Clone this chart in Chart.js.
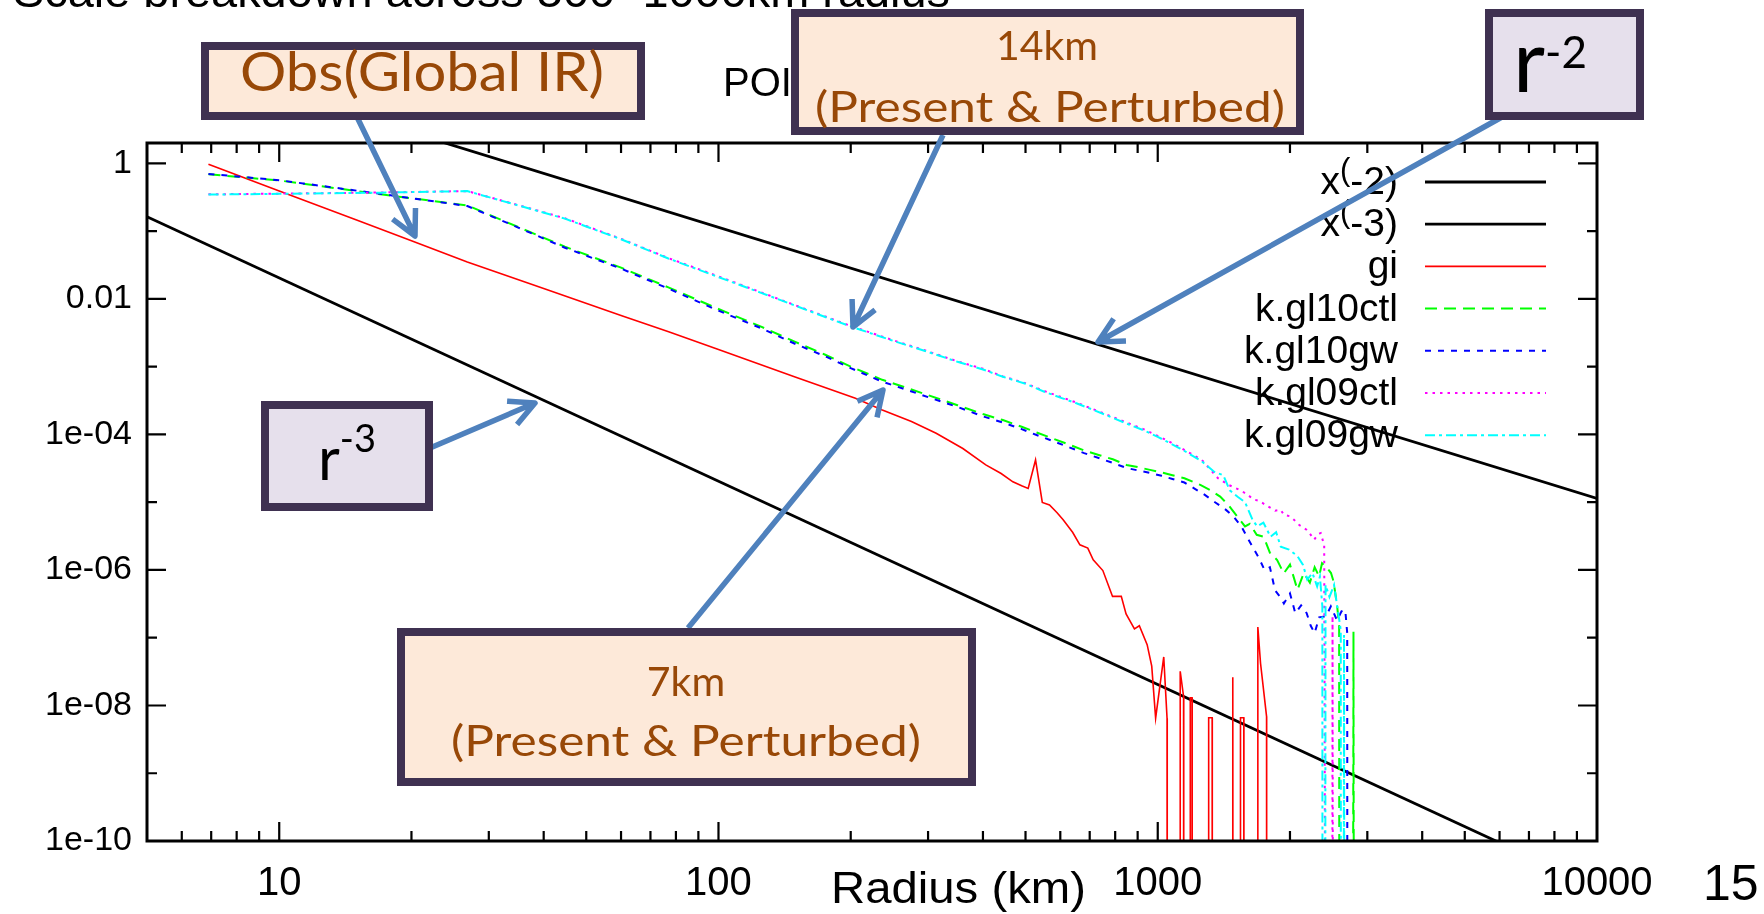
<!DOCTYPE html>
<html><head><meta charset="utf-8">
<script src="https://cdn.jsdelivr.net/npm/chart.js@4.4.1/dist/chart.umd.min.js"></script>
<style>
html,body{margin:0;padding:0;background:#fff;}
#wrap{position:relative;width:1764px;height:914px;overflow:hidden;background:#fff;}
#c{position:absolute;left:0;top:0;}
#ov{position:absolute;left:0;top:0;}
</style></head><body>
<div id="wrap">
<canvas id="c" width="1764" height="914"></canvas>
<svg id="ov" width="1764" height="914" xmlns="http://www.w3.org/2000/svg">
  <g id="arrows"></g>
  <g id="boxes" stroke="#3f3151" stroke-width="8">
    <rect x="205" y="46" width="436" height="70" fill="#fde9d9"/>
    <rect x="795" y="13" width="505" height="118" fill="#fde9d9"/>
    <rect x="1489" y="13" width="151" height="103" fill="#e6e0ec"/>
    <rect x="265" y="405" width="164" height="102" fill="#e6e0ec"/>
    <rect x="401" y="632" width="571" height="150" fill="#fde9d9"/>
  </g>
  <g font-family="Liberation Sans, Arial, sans-serif" fill="#000">
    <text x="13" y="7" font-size="46" textLength="937" lengthAdjust="spacingAndGlyphs">Scale breakdown across 500~1000km radius</text>
    <text x="831" y="903" font-size="44" textLength="255" lengthAdjust="spacingAndGlyphs">Radius (km)</text>
    <text x="1703" y="900" font-size="50">15</text>
    <text x="723" y="96" font-size="40" id="poi"></text>
  </g>
  <g font-family="Lato, 'Open Sans', sans-serif" fill="#984807">
    <text x="240" y="91" font-size="55" textLength="364" lengthAdjust="spacingAndGlyphs">Obs(Global IR)</text>
    <text x="1047" y="60" font-size="41" text-anchor="middle">14km</text>
    <text x="1050" y="122" font-size="43" text-anchor="middle" textLength="470" lengthAdjust="spacingAndGlyphs">(Present &amp; Perturbed)</text>
    <text x="686" y="696" font-size="41" text-anchor="middle">7km</text>
    <text x="686" y="756" font-size="43" text-anchor="middle" textLength="470" lengthAdjust="spacingAndGlyphs">(Present &amp; Perturbed)</text>
  </g>
  <g font-family="Lato, 'Open Sans', sans-serif" fill="#000">
    <text x="1550" y="92" text-anchor="middle"><tspan font-size="88">r</tspan><tspan font-size="44" dy="-24">-2</tspan></text>
    <text x="347" y="480" text-anchor="middle"><tspan font-size="60">r</tspan><tspan font-size="38" dy="-28">-3</tspan></text>
  </g>
</svg>
</div>
<script>
// ---------------- data ----------------
const pow2X = [5, 10000];
const pow2Y = [45.6, 1.14e-5];
const pow3X = [5, 10000];
const pow3Y = [0.163, 2.04e-11];

const giX = [6.9, 10, 15, 20, 26.8, 40, 60, 77, 100, 150, 205, 236, 275, 313, 360, 406, 440, 468, 490, 507, 527, 546, 567, 590, 609, 640, 665, 693, 713, 750, 789, 826, 847, 885, 908, 946, 969, 989, 1032, 1050, 1051, 1124, 1125, 1145, 1146, 1185, 1186, 1197, 1198, 1305, 1306, 1330, 1331, 1481, 1482, 1484, 1542, 1543, 1570, 1571, 1689, 1690, 1714, 1769, 1770];
const giY = [0.97, 0.39, 0.146, 0.072, 0.035, 0.0143, 5.7e-3, 3.27e-3, 1.79e-3, 7.0e-4, 3.41e-4, 2.29e-4, 1.55e-4, 1.04e-4, 6.2e-5, 3.55e-5, 2.65e-5, 2.0e-5, 1.75e-5, 1.6e-5, 4.2e-5, 9.9e-6, 9.1e-6, 7.0e-6, 5.5e-6, 3.6e-6, 2.35e-6, 2.1e-6, 1.41e-6, 9.8e-7, 4.07e-7, 4.07e-7, 2.24e-7, 1.35e-7, 1.5e-7, 7.9e-8, 3.8e-8, 6.5e-9, 5.2e-8, 6.5e-9, 1e-14, 1e-14, 3.2e-8, 1.36e-8, 1e-14, 1e-14, 1.3e-8, 1.3e-8, 1e-14, 1e-14, 6.6e-9, 6.6e-9, 1e-14, 1e-14, 2.6e-8, 1e-14, 1e-14, 6.6e-9, 6.6e-9, 1e-14, 1e-14, 1.44e-7, 4.2e-8, 6.9e-9, 1e-14];

const gl10ctlX = [6.9, 10, 17, 26.8, 35, 44.7, 60, 76.9, 100, 125, 150, 175, 200, 236, 270, 300, 350, 400, 444, 490, 530, 580, 631, 680, 740, 790, 849, 900, 960, 1020, 1080, 1150, 1250, 1320, 1387, 1450, 1518, 1580, 1620, 1680, 1742, 1800, 1870, 1936, 2000, 2080, 2150, 2220, 2276, 2330, 2366, 2420, 2480, 2513, 2560, 2588, 2592, 2780, 2790, 2798];
const gl10ctlY = [0.69, 0.56, 0.35, 0.24, 0.115, 0.059, 0.029, 0.0148, 7.1e-3, 3.9e-3, 2.3e-3, 1.5e-3, 1.0e-3, 6.4e-4, 4.8e-4, 3.8e-4, 2.7e-4, 2.0e-4, 1.63e-4, 1.3e-4, 1.07e-4, 8.6e-5, 7.0e-5, 5.8e-5, 4.9e-5, 4.3e-5, 3.55e-5, 3.3e-5, 3.0e-5, 2.75e-5, 2.5e-5, 2.26e-5, 1.8e-5, 1.5e-5, 1.21e-5, 9.0e-6, 6.1e-6, 4.4e-6, 4.8e-6, 3.3e-6, 3.1e-6, 1.8e-6, 1.4e-6, 8.9e-7, 1.2e-6, 5.1e-7, 9.0e-7, 6.5e-7, 1.1e-6, 8.0e-7, 1.26e-6, 1.1e-6, 9.0e-7, 6.8e-7, 3.0e-7, 1.5e-7, 1e-14, 1e-14, 1.23e-7, 1e-14];

const gl10gwX = [6.9, 10, 17, 26.8, 35, 44.7, 60, 76.9, 100, 125, 150, 175, 200, 236, 270, 300, 350, 400, 444, 490, 530, 580, 631, 680, 740, 790, 849, 900, 960, 1020, 1080, 1150, 1220, 1280, 1350, 1430, 1489, 1550, 1600, 1644, 1700, 1750, 1800, 1850, 1900, 1937, 2000, 2057, 2120, 2183, 2230, 2276, 2330, 2415, 2478, 2560, 2620, 2672, 2700, 2702];
const gl10gwY = [0.70, 0.565, 0.355, 0.235, 0.113, 0.057, 0.028, 0.0142, 6.7e-3, 3.7e-3, 2.15e-3, 1.42e-3, 9.5e-4, 6.0e-4, 4.5e-4, 3.55e-4, 2.55e-4, 1.85e-4, 1.5e-4, 1.2e-4, 9.8e-5, 7.9e-5, 6.4e-5, 5.3e-5, 4.4e-5, 3.8e-5, 3.2e-5, 2.95e-5, 2.7e-5, 2.45e-5, 2.2e-5, 1.95e-5, 1.55e-5, 1.28e-5, 1.0e-5, 7.7e-6, 6.1e-6, 4.4e-6, 3.0e-6, 2.2e-6, 1.5e-6, 1.0e-6, 1.1e-6, 5.0e-7, 4.0e-7, 3.2e-7, 4.5e-7, 2.3e-7, 3.0e-7, 2.3e-7, 1.5e-7, 1.17e-7, 2.0e-7, 2.06e-7, 2.9e-7, 1.8e-7, 2.45e-7, 2.57e-7, 1.17e-7, 1e-14];

const gl09ctlX = [6.9, 10, 17, 26.8, 35, 44.7, 60, 76.9, 100, 125, 150, 175, 201, 250, 300, 350, 400, 444, 500, 550, 600, 653, 720, 800, 860, 927, 1000, 1060, 1125, 1190, 1260, 1320, 1371, 1450, 1542, 1600, 1650, 1700, 1786, 1850, 1906, 1937, 2000, 2043, 2100, 2185, 2230, 2270, 2320, 2350, 2393, 2410, 2495, 2500, 2508];
const gl09ctlY = [0.35, 0.358, 0.372, 0.39, 0.242, 0.155, 0.077, 0.040, 0.0215, 0.0125, 8.0e-3, 5.5e-3, 3.95e-3, 2.45e-3, 1.68e-3, 1.2e-3, 9.3e-4, 7.2e-4, 5.7e-4, 4.4e-4, 3.6e-4, 2.95e-4, 2.3e-4, 1.75e-4, 1.45e-4, 1.2e-4, 9.5e-5, 7.9e-5, 6.4e-5, 5.2e-5, 4.2e-5, 3.0e-5, 2.26e-5, 1.8e-5, 1.5e-5, 1.3e-5, 1.1e-5, 1.05e-5, 8.6e-6, 7.5e-6, 7.7e-6, 6.5e-6, 6.2e-6, 5.5e-6, 4.6e-6, 3.9e-6, 3.3e-6, 2.8e-6, 3.4e-6, 3.5e-6, 2.3e-6, 1e-14, 1e-14, 2.1e-7, 1e-14];

const gl09gwX = [6.9, 10, 17, 26.8, 35, 44.7, 60, 76.9, 100, 125, 150, 175, 201, 250, 300, 350, 400, 444, 500, 550, 600, 653, 720, 800, 860, 927, 1000, 1060, 1125, 1190, 1260, 1346, 1410, 1459, 1520, 1580, 1644, 1684, 1740, 1806, 1860, 1906, 1990, 2080, 2140, 2190, 2250, 2306, 2340, 2370, 2372, 2405, 2410, 2460, 2520, 2560, 2610, 2612, 2650, 2655, 2660];
const gl09gwY = [0.347, 0.355, 0.37, 0.39, 0.24, 0.153, 0.076, 0.0395, 0.021, 0.0123, 7.9e-3, 5.4e-3, 3.88e-3, 2.4e-3, 1.65e-3, 1.18e-3, 9.1e-4, 7.1e-4, 5.6e-4, 4.3e-4, 3.5e-4, 2.88e-4, 2.25e-4, 1.7e-4, 1.4e-4, 1.16e-4, 9.2e-5, 7.6e-5, 6.2e-5, 5.0e-5, 4.0e-5, 2.8e-5, 2.5e-5, 1.5e-5, 1.2e-5, 1.0e-5, 5.5e-6, 4.4e-6, 5.0e-6, 3.1e-6, 3.6e-6, 2.2e-6, 2.0e-6, 1.6e-6, 1.2e-6, 7.2e-7, 9.0e-7, 5.7e-7, 8.0e-7, 2.9e-7, 1e-14, 1e-14, 6.0e-7, 4.0e-7, 6.0e-7, 3.0e-7, 1.3e-7, 1e-14, 1e-14, 1.1e-7, 1e-14];

const seriesLabels = ['x^(-2)', 'x^(-3)', 'gi', 'k.gl10ctl', 'k.gl10gw', 'k.gl09ctl', 'k.gl09gw'];
const xTickValues = [10, 100, 1000, 10000];
const xTickLabels = ['10', '100', '1000', '10000'];
const yTickValues = [1, 1e-2, 1e-4, 1e-6, 1e-8, 1e-10];
const yTickLabels = ['1', '0.01', '1e-04', '1e-06', '1e-08', '1e-10'];
const chartTitle = 'POI';

// ---------------- chart ----------------
document.getElementById('poi').textContent = chartTitle;
const FONT = 'Liberation Sans, Arial, sans-serif';
Chart.defaults.font.family = FONT;
Chart.defaults.color = '#000';

function pts(xs, ys) { return xs.map((x, i) => ({ x: x, y: ys[i] })); }

const styles = [
  { color: '#000000', width: 2.8, dash: [] },
  { color: '#000000', width: 2.8, dash: [] },
  { color: '#ff0000', width: 1.6, dash: [] },
  { color: '#00ff00', width: 2, dash: [12, 7] },
  { color: '#0000ff', width: 2, dash: [6, 7] },
  { color: '#ff00ff', width: 2, dash: [2.5, 5] },
  { color: '#00ffff', width: 2, dash: [10, 4, 3, 4] }
];
const series = [[pow2X, pow2Y], [pow3X, pow3Y], [giX, giY], [gl10ctlX, gl10ctlY], [gl10gwX, gl10gwY], [gl09ctlX, gl09ctlY], [gl09gwX, gl09gwY]];

const datasets = series.map((s, i) => ({
  label: seriesLabels[i],
  data: pts(s[0], s[1]),
  borderColor: styles[i].color,
  backgroundColor: styles[i].color,
  borderWidth: styles[i].width,
  borderDash: styles[i].dash,
  borderCapStyle: 'butt',
  pointRadius: 0,
  tension: 0,
  fill: false,
  order: series.length - i
}));

const framePlugin = {
  id: 'frame',
  afterDatasetsDraw(chart) {
    const ctx = chart.ctx, a = chart.chartArea, xs = chart.scales.x, ys = chart.scales.y;
    ctx.save();
    ctx.strokeStyle = '#000';
    ctx.lineWidth = 2.2;
    ctx.setLineDash([]);
    ctx.beginPath();
    for (let e = 0; e <= 4; e++) {
      for (let m = 1; m < 10; m++) {
        const v = m * Math.pow(10, e);
        if (v <= 5 || v >= 10000) continue;
        const px = xs.getPixelForValue(v);
        const L = (m === 1) ? 19 : 10;
        ctx.moveTo(px, a.bottom); ctx.lineTo(px, a.bottom - L);
        ctx.moveTo(px, a.top); ctx.lineTo(px, a.top + L);
      }
    }
    for (let e = -9; e <= 0; e++) {
      const py = ys.getPixelForValue(Math.pow(10, e));
      const L = (e % 2 === 0) ? 19 : 10;
      ctx.moveTo(a.left, py); ctx.lineTo(a.left + L, py);
      ctx.moveTo(a.right, py); ctx.lineTo(a.right - L, py);
    }
    ctx.stroke();
    ctx.lineWidth = 3;
    ctx.strokeRect(a.left, a.top, a.right - a.left, a.bottom - a.top);
    ctx.restore();
  }
};

const legendPlugin = {
  id: 'gpLegend',
  afterDatasetsDraw(chart) {
    const ctx = chart.ctx;
    const textRight = 1398, lineX0 = 1425, lineX1 = 1546, row0 = 182, rowStep = 42.2;
    const fs = 39, sfs = 31;
    ctx.save();
    chart.data.datasets.forEach((ds, i) => {
      const yRow = row0 + i * rowStep;
      const base = yRow + 12;
      ctx.fillStyle = '#000';
      ctx.textBaseline = 'alphabetic';
      ctx.textAlign = 'left';
      const lab = ds.label;
      const k = lab.indexOf('^');
      if (k >= 0) {
        const pre = lab.slice(0, k), sup = lab.charAt(k + 1), post = lab.slice(k + 2);
        ctx.font = fs + 'px ' + FONT;
        const w1 = ctx.measureText(pre).width, w3 = ctx.measureText(post).width;
        ctx.font = sfs + 'px ' + FONT;
        const w2 = ctx.measureText(sup).width;
        let x = textRight - (w1 + w2 + w3);
        ctx.font = fs + 'px ' + FONT; ctx.fillText(pre, x, base); x += w1;
        ctx.font = sfs + 'px ' + FONT; ctx.fillText(sup, x, base - 14); x += w2;
        ctx.font = fs + 'px ' + FONT; ctx.fillText(post, x, base);
      } else {
        ctx.font = fs + 'px ' + FONT;
        ctx.textAlign = 'right';
        ctx.fillText(lab, textRight, base);
      }
      ctx.strokeStyle = ds.borderColor;
      ctx.lineWidth = ds.borderWidth;
      ctx.setLineDash(ds.borderDash || []);
      ctx.lineCap = 'butt';
      ctx.beginPath();
      ctx.moveTo(lineX0, yRow); ctx.lineTo(lineX1, yRow);
      ctx.stroke();
    });
    ctx.restore();
  }
};

new Chart(document.getElementById('c'), {
  type: 'line',
  data: { datasets: datasets },
  options: {
    responsive: false,
    animation: false,
    devicePixelRatio: 1,
    layout: { padding: { left: 0, right: 167, top: 143, bottom: 0 } },
    plugins: { legend: { display: false }, tooltip: { enabled: false }, title: { display: false } },
    scales: {
      x: {
        type: 'logarithmic', min: 5, max: 10000, bounds: 'data',
        grid: { display: false, drawTicks: false },
        border: { display: false },
        afterBuildTicks: (s) => { s.ticks = xTickValues.map(v => ({ value: v })); },
        afterFit: (s) => { s.height = 73; },
        ticks: {
          autoSkip: false, maxRotation: 0, minRotation: 0, padding: 19,
          font: { size: 40, family: FONT }, color: '#000',
          callback: (v) => { const i = xTickValues.indexOf(v); return i >= 0 ? xTickLabels[i] : ''; }
        }
      },
      y: {
        type: 'logarithmic', min: 1e-10, max: 2, bounds: 'data',
        grid: { display: false, drawTicks: false },
        border: { display: false },
        afterBuildTicks: (s) => { s.ticks = yTickValues.map(v => ({ value: v })); },
        afterFit: (s) => { s.width = 147; },
        ticks: {
          autoSkip: false, padding: 15,
          font: { size: 34, family: FONT }, color: '#000',
          callback: (v) => {
            const e = Math.round(Math.log10(v));
            const i = yTickValues.findIndex(t => Math.round(Math.log10(t)) === e);
            return i >= 0 ? yTickLabels[i] : '';
          }
        }
      }
    }
  },
  plugins: [framePlugin, legendPlugin]
});

// ---------------- annotation arrows ----------------
const arrowDefs = [
  [357, 117, 415, 236],
  [943, 135, 853, 327],
  [1502, 117, 1098, 342],
  [430, 448, 535, 403],
  [688, 628, 883, 390]
];
const NS = 'http://www.w3.org/2000/svg';
const ag = document.getElementById('arrows');
arrowDefs.forEach(d => {
  const [x1, y1, x2, y2] = d;
  const ang = Math.atan2(y2 - y1, x2 - x1), L = 28, h = 27 * Math.PI / 180;
  const p1 = [x2 - L * Math.cos(ang - h), y2 - L * Math.sin(ang - h)];
  const p2 = [x2 - L * Math.cos(ang + h), y2 - L * Math.sin(ang + h)];
  const path = document.createElementNS(NS, 'path');
  path.setAttribute('d', `M${x1},${y1} L${x2},${y2} M${p1[0]},${p1[1]} L${x2},${y2} L${p2[0]},${p2[1]}`);
  path.setAttribute('stroke', '#4f81bd');
  path.setAttribute('stroke-width', '5.5');
  path.setAttribute('fill', 'none');
  path.setAttribute('stroke-linecap', 'butt');
  path.setAttribute('stroke-linejoin', 'round');
  ag.appendChild(path);
});
</script>
</body></html>
